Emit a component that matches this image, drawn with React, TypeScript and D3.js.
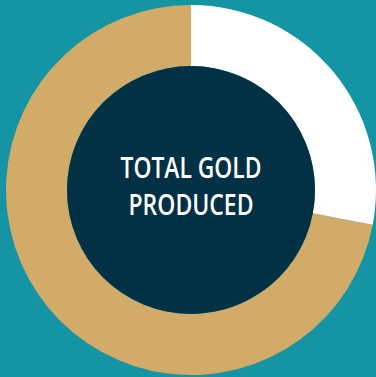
import React from "react";
import * as d3 from "d3";

const categories = ["Gold", "Remaining"];
const values = [72, 28];
const colors = ["#d2ab69", "#ffffff"];
const titleLines = ["TOTAL GOLD", "PRODUCED"];
const titleWidths = [141, 125];

const W = 376;
const H = 377;
const cx = 191;
const cy = 190;
const outerR = 185;
const innerR = 124;

export default function App() {
  const pie = d3
    .pie<number>()
    .sort(null)
    .startAngle(2 * Math.PI)
    .endAngle(0);
  const arcs = pie(values);
  const arc = d3.arc<d3.PieArcDatum<number>>().innerRadius(innerR).outerRadius(outerR);
  return (
    <svg
      width={W}
      height={H}
      style={{ position: "absolute", left: 0, top: 0, display: "block" }}
    >
      <rect width={W} height={H} fill="#1594a3" />
      <g transform={`translate(${cx},${cy})`}>
        {arcs.map((a, i) => (
          <path key={categories[i]} d={arc(a) || ""} fill={colors[i]} />
        ))}
        <circle r={innerR} fill="#023044" />
        {titleLines.map((t, i) => (
          <text
            key={t}
            x={0}
            y={-12 + i * 37}
            textAnchor="middle"
            fill="#ffffff"
            fontFamily="'Open Sans', sans-serif"
            fontWeight={600}
            fontSize={29}
            textLength={titleWidths[i]}
            lengthAdjust="spacingAndGlyphs"
          >
            {t}
          </text>
        ))}
      </g>
    </svg>
  );
}
